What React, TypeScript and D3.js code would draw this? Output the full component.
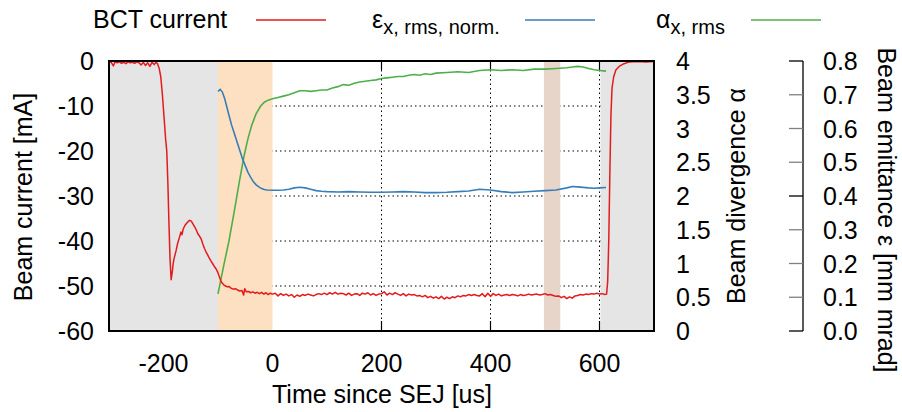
import React from "react";
import * as d3 from "d3";

// BCT current [mA] vs time since SEJ [us]
const bctCurrent: [number, number][] = [
  [-300, -0.2], [-296, -0.3], [-292, -1.1], [-289, -0.2], [-285, -0.4], [-281, -0.2], [-277, -0.5],
  [-273, -0.3], [-269, -0.6], [-265, -0.2], [-261, -0.4], [-257, -0.3], [-253, -0.5], [-249, -0.2],
  [-245, -0.4], [-241, -0.9], [-237, -0.3], [-233, -1.0], [-229, -0.4], [-225, -1.2], [-221, -0.3],
  [-217, -0.8], [-214, -0.3], [-211, -0.6], [-208, -1.6], [-205, -3.5], [-202, -7.5], [-199, -12.5],
  [-196, -17.5], [-194, -20], [-192, -27], [-190, -36], [-188, -44], [-186, -48.6], [-184, -47],
  [-182, -44.8], [-180, -43.6], [-177, -42.2], [-174, -40.5], [-171, -39.3], [-168, -38], [-166, -38.6],
  [-164, -37.4], [-161, -36.6], [-158, -36.1], [-155, -35.7], [-152, -35.4], [-149, -35.6], [-146, -36.2],
  [-143, -36.8], [-140, -37.5], [-137, -38.4], [-134, -38.9], [-131, -39.5], [-128, -40.6], [-125, -41.6],
  [-122, -42.4], [-119, -43.1], [-116, -43.8], [-113, -44.4], [-110, -45.0], [-107, -45.6], [-104, -46.1],
  [-101, -46.8], [-98, -47.8], [-95, -48.8], [-92, -49.4], [-89, -49.8], [-86, -50.0], [-83, -50.2],
  [-80, -50.1], [-76, -50.5], [-72, -50.7], [-68, -50.6], [-64, -50.9], [-60, -51.1], [-56, -51.0],
  [-53, -52.0], [-51, -50.6], [-48, -51.3], [-44, -51.2], [-40, -51.5], [-36, -51.3], [-32, -51.6],
  [-28, -51.4], [-24, -51.7], [-20, -51.4], [-16, -51.8], [-12, -51.5], [-8, -51.9], [-4, -51.6],
  [0, -51.8], [5, -51.6], [10, -52.2], [15, -51.7], [20, -52.1], [25, -51.8], [30, -52.2], [35, -51.9],
  [40, -52.5], [45, -52.0], [50, -52.3], [55, -51.9], [60, -52.1], [65, -51.8], [70, -52.0], [75, -52.2],
  [80, -51.9], [85, -51.7], [90, -51.9], [95, -51.6], [100, -51.9], [105, -51.5], [110, -51.8],
  [115, -51.4], [120, -51.8], [125, -51.6], [130, -51.7], [135, -52.0], [140, -51.6], [145, -52.1],
  [150, -51.8], [155, -51.7], [160, -52.1], [165, -51.6], [170, -51.8], [175, -51.5], [180, -52.0],
  [185, -51.7], [190, -52.1], [195, -51.8], [200, -51.7], [205, -51.3], [210, -52.0], [215, -51.6],
  [220, -51.9], [225, -51.5], [230, -51.8], [235, -52.1], [240, -51.7], [245, -52.2], [250, -51.8],
  [255, -52.0], [260, -51.9], [265, -52.2], [270, -52.1], [275, -52.4], [280, -52.1], [285, -52.6],
  [290, -52.3], [295, -52.7], [300, -52.4], [305, -52.8], [310, -52.3], [315, -52.9], [320, -52.5],
  [325, -52.8], [330, -52.4], [335, -52.6], [340, -52.2], [345, -52.4], [350, -52.1], [355, -52.2],
  [360, -51.9], [365, -52.1], [370, -51.9], [375, -52.1], [380, -52.2], [385, -51.7], [390, -52.4],
  [395, -51.6], [400, -52.3], [405, -51.7], [410, -52.1], [415, -51.8], [420, -52.2], [425, -52.0],
  [430, -51.9], [435, -52.1], [440, -51.9], [445, -52.0], [450, -52.2], [455, -51.9], [460, -52.1],
  [465, -52.0], [470, -51.8], [475, -52.0], [480, -51.9], [485, -51.8], [490, -52.0], [495, -51.9],
  [500, -51.7], [505, -52.0], [510, -51.9], [515, -52.1], [520, -52.3], [525, -52.2], [530, -52.6],
  [535, -52.3], [540, -52.8], [545, -52.4], [550, -52.7], [555, -52.2], [560, -52.1], [565, -51.9],
  [570, -52.0], [575, -51.8], [580, -51.9], [585, -51.7], [590, -51.8], [595, -51.6], [600, -51.8],
  [605, -51.7], [610, -51.9], [613, -51.8], [615, -49], [617, -40], [619, -25], [621, -12], [623, -6],
  [626, -3.5], [630, -2], [636, -1.2], [645, -0.6], [655, -0.2], [670, -0.1], [685, -0.2], [700, -0.1],
];

// normalised rms emittance [mm mrad]
const emittance: [number, number][] = [
  [-100, 0.71], [-96, 0.716], [-92, 0.708], [-88, 0.69], [-84, 0.665], [-80, 0.64], [-75, 0.61],
  [-70, 0.585], [-65, 0.56], [-60, 0.535], [-55, 0.51], [-50, 0.49], [-45, 0.47], [-40, 0.455],
  [-35, 0.442], [-30, 0.433], [-25, 0.427], [-20, 0.422], [-15, 0.419], [-10, 0.418], [0, 0.417],
  [10, 0.417], [20, 0.418], [30, 0.42], [40, 0.424], [50, 0.426], [60, 0.424], [70, 0.42], [80, 0.416],
  [90, 0.414], [100, 0.413], [120, 0.412], [140, 0.413], [160, 0.412], [180, 0.411], [200, 0.411],
  [220, 0.412], [240, 0.413], [260, 0.412], [280, 0.41], [300, 0.41], [320, 0.411], [340, 0.413],
  [360, 0.415], [380, 0.42], [400, 0.418], [420, 0.413], [440, 0.41], [460, 0.412], [480, 0.414],
  [500, 0.416], [520, 0.418], [540, 0.424], [550, 0.428], [560, 0.427], [580, 0.424], [590, 0.423],
  [600, 0.424], [612, 0.425],
];

// rms divergence alpha
const divergence: [number, number][] = [
  [-100, 0.55], [-90, 0.95], [-80, 1.33], [-70, 1.78], [-60, 2.25], [-52, 2.6], [-45, 2.85],
  [-38, 3.05], [-30, 3.22], [-22, 3.33], [-15, 3.39], [-8, 3.42], [0, 3.44], [10, 3.46], [20, 3.48],
  [30, 3.5], [40, 3.53], [50, 3.56], [60, 3.56], [70, 3.55], [80, 3.56], [90, 3.57], [100, 3.57],
  [110, 3.6], [120, 3.62], [130, 3.65], [140, 3.64], [150, 3.67], [160, 3.69], [170, 3.7], [180, 3.71],
  [190, 3.72], [200, 3.74], [210, 3.75], [220, 3.76], [230, 3.77], [240, 3.77], [250, 3.79], [260, 3.8],
  [270, 3.79], [280, 3.81], [290, 3.8], [300, 3.82], [320, 3.83], [340, 3.84], [360, 3.83], [380, 3.86],
  [400, 3.87], [420, 3.86], [440, 3.87], [460, 3.86], [480, 3.88], [500, 3.88], [520, 3.89], [540, 3.9],
  [550, 3.91], [560, 3.92], [570, 3.91], [580, 3.89], [590, 3.87], [600, 3.86], [612, 3.85],
];

const timeTicks = [-200, 0, 200, 400, 600];
const currentTicks = [0, -10, -20, -30, -40, -50, -60];
const currentGrid = [-10, -20, -30, -40, -50];
const timeGrid = [200, 400, 600];
const alphaTicks = [0, 0.5, 1, 1.5, 2, 2.5, 3, 3.5, 4];
const emitTicks = [0, 0.1, 0.2, 0.3, 0.4, 0.5, 0.6, 0.7, 0.8];
const beamOff: [number, number][] = [[-300, -100], [600, 700]];
const rampSpan: [number, number] = [-100, 0];
const markSpan: [number, number] = [498, 528];

const font = "'Liberation Sans', Arial, Helvetica, sans-serif";

export default function App() {
  const left = 109, right = 654, top = 61, bottom = 331;
  const x = d3.scaleLinear().domain([-300, 700]).range([left, right]);
  const yI = d3.scaleLinear().domain([-60, 0]).range([bottom, top]);
  const yA = d3.scaleLinear().domain([0, 4]).range([bottom, top]);
  const yE = d3.scaleLinear().domain([0, 0.8]).range([bottom, top]);

  const lineI = d3.line<[number, number]>().x(d => x(d[0])).y(d => yI(d[1]));
  const lineA = d3.line<[number, number]>().x(d => x(d[0])).y(d => yA(d[1]));
  const lineE = d3.line<[number, number]>().x(d => x(d[0])).y(d => yE(d[1]));

  const emitAxisX = 803;

  return (
    <svg width={902} height={412} style={{ position: "absolute", left: 0, top: 0 }}
      fontFamily={font} fontSize={25} fill="#000">
      <rect width={902} height={412} fill="#fff" />

      {/* grid + ticks (under the shaded bands) */}
      {currentGrid.map(v => (
        <line key={"gh" + v} x1={left} x2={right} y1={yI(v)} y2={yI(v)}
          stroke="#000" strokeWidth={1} strokeDasharray="1.5,3" />
      ))}
      {timeGrid.map(v => (
        <line key={"gv" + v} x1={x(v)} x2={x(v)} y1={top} y2={bottom}
          stroke="#000" strokeWidth={1} strokeDasharray="1.5,3" />
      ))}

      {beamOff.map(([a, b], i) => (
        <rect key={"off" + i} x={x(a) + (i === 1 ? 1 : 0)} y={top} width={x(b) - x(a) - (i === 1 ? 1 : 0)}
          height={bottom - top} fill="#e5e5e5" />
      ))}
      <rect x={x(rampSpan[0])} y={top} width={x(rampSpan[1]) - x(rampSpan[0])} height={bottom - top} fill="#fde0c2" />
      <rect x={x(markSpan[0])} y={top} width={x(markSpan[1]) - x(markSpan[0])} height={bottom - top} fill="#e7d5c9" />

      {timeTicks.filter(v => v > 0).map(v => (
        <g key={"tt" + v}>
          <line x1={x(v)} x2={x(v)} y1={bottom} y2={bottom - 10} stroke="#000" strokeWidth={1.2} />
          <line x1={x(v)} x2={x(v)} y1={top} y2={top + 9} stroke="#000" strokeWidth={1.2} />
        </g>
      ))}

      <path d={lineA(divergence) ?? ""} fill="none" stroke="#4daf4a" strokeWidth={1.6} />
      <path d={lineE(emittance) ?? ""} fill="none" stroke="#377eb8" strokeWidth={1.6} />
      <path d={lineI(bctCurrent) ?? ""} fill="none" stroke="#e41a1c" strokeWidth={1.5} strokeLinejoin="round" />

      <rect x={left} y={top} width={right - left} height={bottom - top} fill="none" stroke="#000" strokeWidth={2} />

      {/* bottom axis */}
      {timeTicks.map(v => (
        <text key={"xl" + v} x={x(v)} y={372} textAnchor="middle">{v}</text>
      ))}
      <text x={382} y={403} textAnchor="middle">Time since SEJ [us]</text>

      {/* left axis */}
      {currentTicks.map(v => (
        <text key={"yl" + v} x={94} y={yI(v) + 9} textAnchor="end">{v}</text>
      ))}
      <text transform={`translate(32,197) rotate(-90)`} textAnchor="middle">Beam current [mA]</text>

      {/* divergence axis */}
      {alphaTicks.map(v => (
        <text key={"al" + v} x={676} y={yA(v) + 9}>{v}</text>
      ))}
      <text transform={`translate(745,196) rotate(-90)`} textAnchor="middle">Beam divergence α</text>

      {/* emittance axis */}
      <line x1={emitAxisX} x2={emitAxisX} y1={yE(0)} y2={yE(0.8)} stroke="#000" strokeWidth={1.3} />
      {emitTicks.map((v, i) => (
        <g key={"el" + v}>
          <line x1={emitAxisX - 14} x2={emitAxisX} y1={yE(v)} y2={yE(v)}
            stroke={i % 4 === 0 ? "#000" : "#808080"} strokeWidth={1.3} />
          <text x={823} y={yE(v) + 9}>{v.toFixed(1)}</text>
        </g>
      ))}
      <text transform={`translate(878,210) rotate(90)`} textAnchor="middle">Beam emittance ε [mm mrad]</text>

      {/* legend */}
      <text x={93} y={28}>BCT current</text>
      <line x1={256} x2={326} y1={20} y2={20} stroke="#e41a1c" strokeWidth={1.6} />
      <text x={372} y={28}>ε<tspan fontSize={20} dy={6}>x, rms, norm.</tspan></text>
      <line x1={525} x2={595} y1={20} y2={20} stroke="#377eb8" strokeWidth={1.6} />
      <text x={656} y={28}>α<tspan fontSize={20} dy={6}>x, rms</tspan></text>
      <line x1={751} x2={821} y1={20} y2={20} stroke="#4daf4a" strokeWidth={1.6} />
    </svg>
  );
}
